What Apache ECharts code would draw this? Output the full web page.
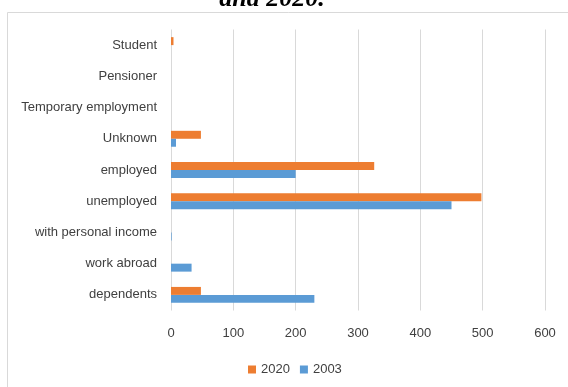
<!DOCTYPE html>
<html>
<head>
<meta charset="utf-8">
<script src="https://cdn.jsdelivr.net/npm/echarts@6/dist/echarts.min.js"></script>
<style>
  html, body { margin: 0; padding: 0; background: #fff; }
  #chart { width: 568px; height: 387px; }
</style>
</head>
<body>
<div id="chart"></div>
<script>
// Categories listed from bottom to top of the chart
const categories = [
  'dependents', 'work abroad', 'with personal income', 'unemployed',
  'employed', 'Unknown', 'Temporary employment', 'Pensioner', 'Student'
];
const values2020 = [48, 0, 0, 498, 326, 48, 0, 0, 4];
const values2003 = [230, 33, 1, 450, 200, 8, 0, 0, 0];
const xTicks = [0, 100, 200, 300, 400, 500, 600];

const labelFont = '"Liberation Sans", Arial, sans-serif';
const labelColor = '#404040';

const chart = echarts.init(document.getElementById('chart'), null, { renderer: 'canvas' });

chart.setOption({
  animation: false,
  backgroundColor: '#ffffff',
  graphic: [
    {
      type: 'rect',
      shape: { x: 7.5, y: 12.5, width: 600, height: 400 },
      style: { fill: 'none', stroke: '#d9d9d9', lineWidth: 1 },
      silent: true, z: -1
    },
    {
      type: 'text',
      x: 272, y: 12,
      style: {
        text: 'and 2020.',
        font: 'italic bold 26px "Liberation Serif", serif',
        fill: '#000',
        align: 'center',
        verticalAlign: 'bottom'
      },
      silent: true
    }
  ],
  legend: {
    data: ['2020', '2003'],
    bottom: 6,
    left: 243,
    itemWidth: 8,
    itemHeight: 8,
    itemGap: 10,
    icon: 'rect',
    textStyle: { fontFamily: labelFont, fontSize: 13, color: labelColor }
  },
  grid: { left: 171, right: 23, top: 29.5, bottom: 76.5, containLabel: false },
  xAxis: {
    type: 'value',
    min: xTicks[0],
    max: xTicks[xTicks.length - 1],
    interval: 100,
    axisLine: { show: false },
    axisTick: { show: false },
    splitLine: { lineStyle: { color: '#d9d9d9', width: 1 } },
    axisLabel: {
      fontFamily: labelFont, fontSize: 13, color: labelColor, margin: 16
    }
  },
  yAxis: {
    type: 'category',
    data: categories,
    axisLine: { show: false },
    axisTick: { show: false },
    axisLabel: {
      fontFamily: labelFont, fontSize: 13, color: labelColor, margin: 14
    }
  },
  series: [
    {
      name: '2020',
      type: 'bar',
      data: values2020,
      itemStyle: { color: '#ed7d31' },
      barGap: '0%',
      barCategoryGap: '49%'
    },
    {
      name: '2003',
      type: 'bar',
      data: values2003,
      itemStyle: { color: '#5b9bd5' },
      barGap: '0%',
      barCategoryGap: '49%'
    }
  ]
});
</script>
</body>
</html>
